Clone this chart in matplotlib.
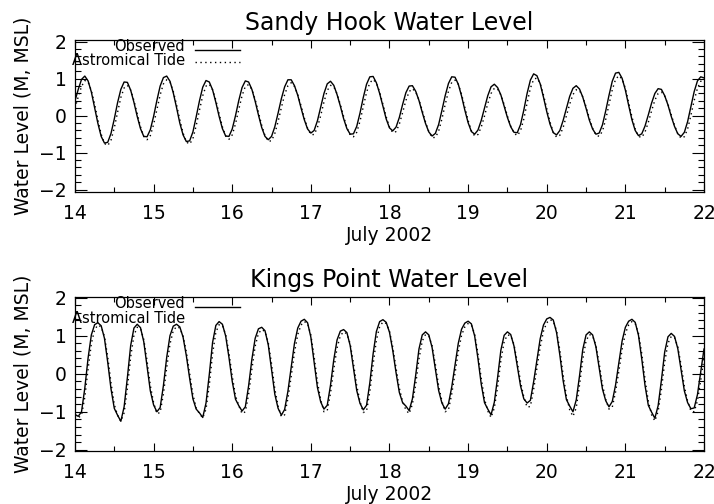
"""Sandy Hook and Kings Point water levels, observed vs. astronomical tide, July 2002."""

import matplotlib
matplotlib.use("Agg")
import matplotlib.pyplot as plt
import numpy as np
from matplotlib.ticker import MultipleLocator


# Hourly samples starting 14 July 2002 00:00 (values in metres, MSL)
START_DAY = 14.0

sandy_observed = [
    0.40, 0.71, 0.98, 1.07, 0.94, 0.64, 0.22, -0.21, -0.56, -0.74, -0.72, -0.48,
    -0.09, 0.35, 0.71, 0.91, 0.90, 0.69, 0.36, -0.02, -0.35, -0.56, -0.57, -0.38,
    -0.02, 0.41, 0.80, 1.03, 1.07, 0.93, 0.62, 0.22, -0.20, -0.52, -0.70, -0.68,
    -0.44, -0.03, 0.40, 0.77, 0.95, 0.91, 0.70, 0.36, -0.02, -0.35, -0.55, -0.56,
    -0.36, 0.00, 0.41, 0.76, 0.94, 0.91, 0.71, 0.39, 0.02, -0.32, -0.56, -0.65,
    -0.56, -0.30, 0.07, 0.46, 0.78, 0.97, 0.97, 0.81, 0.55, 0.21, -0.11, -0.36,
    -0.47, -0.40, -0.14, 0.23, 0.60, 0.86, 0.93, 0.82, 0.57, 0.26, -0.08, -0.35,
    -0.50, -0.49, -0.29, 0.07, 0.49, 0.85, 1.05, 1.06, 0.89, 0.60, 0.25, -0.09,
    -0.33, -0.41, -0.31, -0.05, 0.30, 0.62, 0.80, 0.81, 0.66, 0.41, 0.09, -0.21,
    -0.44, -0.55, -0.48, -0.24, 0.14, 0.54, 0.87, 1.05, 1.04, 0.85, 0.53, 0.15,
    -0.19, -0.43, -0.50, -0.39, -0.13, 0.21, 0.54, 0.78, 0.85, 0.76, 0.56, 0.26,
    -0.05, -0.30, -0.45, -0.46, -0.24, 0.15, 0.60, 0.96, 1.13, 1.08, 0.86, 0.50,
    0.11, -0.23, -0.46, -0.52, -0.40, -0.13, 0.20, 0.52, 0.74, 0.81, 0.72, 0.50,
    0.20, -0.12, -0.36, -0.50, -0.47, -0.25, 0.13, 0.55, 0.93, 1.15, 1.17, 1.01,
    0.69, 0.28, -0.11, -0.40, -0.54, -0.49, -0.28, 0.02, 0.34, 0.60, 0.73, 0.71,
    0.54, 0.29, -0.02, -0.29, -0.49, -0.56, -0.45, -0.16, 0.25, 0.65, 0.94, 1.05,
    1.02,
]

sandy_tide = [
    0.20, 0.51, 0.79, 0.95, 0.91, 0.68, 0.31, -0.12, -0.50, -0.75, -0.81, -0.66,
    -0.33, 0.09, 0.49, 0.75, 0.82, 0.69, 0.41, 0.05, -0.30, -0.56, -0.65, -0.54,
    -0.24, 0.16, 0.56, 0.86, 0.97, 0.91, 0.66, 0.30, -0.11, -0.47, -0.71, -0.77,
    -0.62, -0.27, 0.15, 0.54, 0.80, 0.85, 0.70, 0.42, 0.05, -0.30, -0.55, -0.64,
    -0.52, -0.22, 0.17, 0.54, 0.79, 0.84, 0.71, 0.44, 0.09, -0.26, -0.54, -0.69,
    -0.68, -0.48, -0.16, 0.22, 0.57, 0.81, 0.89, 0.79, 0.57, 0.27, -0.06, -0.34,
    -0.51, -0.51, -0.32, 0.00, 0.37, 0.68, 0.82, 0.78, 0.59, 0.30, -0.02, -0.32,
    -0.52, -0.57, -0.45, -0.15, 0.24, 0.63, 0.89, 0.98, 0.88, 0.64, 0.31, -0.03,
    -0.31, -0.46, -0.43, -0.23, 0.08, 0.41, 0.65, 0.73, 0.64, 0.43, 0.14, -0.17,
    -0.43, -0.59, -0.59, -0.42, -0.09, 0.30, 0.66, 0.90, 0.96, 0.85, 0.58, 0.22,
    -0.13, -0.41, -0.55, -0.51, -0.31, -0.01, 0.33, 0.60, 0.74, 0.72, 0.56, 0.30,
    -0.01, -0.28, -0.47, -0.54, -0.41, -0.09, 0.34, 0.74, 0.98, 1.02, 0.87, 0.56,
    0.19, -0.17, -0.45, -0.58, -0.53, -0.32, -0.01, 0.31, 0.57, 0.70, 0.68, 0.51,
    0.24, -0.07, -0.34, -0.52, -0.56, -0.42, -0.10, 0.30, 0.70, 0.98, 1.08, 0.99,
    0.74, 0.36, -0.03, -0.36, -0.56, -0.59, -0.44, -0.18, 0.13, 0.42, 0.60, 0.64,
    0.53, 0.31, 0.02, -0.26, -0.49, -0.61, -0.57, -0.36, 0.01, 0.41, 0.74, 0.93,
    0.95,
]

kings_observed = [
    -1.07, -1.12, -1.00, -0.38, 0.41, 1.02, 1.29, 1.34, 1.26, 0.93, 0.30, -0.40,
    -0.91, -1.09, -1.25, -0.87, -0.10, 0.74, 1.20, 1.30, 1.21, 0.84, 0.20, -0.45,
    -0.82, -1.00, -0.89, -0.31, 0.43, 1.00, 1.25, 1.30, 1.23, 0.96, 0.47, -0.12,
    -0.66, -0.93, -1.03, -1.15, -0.77, -0.02, 0.82, 1.27, 1.37, 1.30, 0.99, 0.43,
    -0.20, -0.67, -0.84, -0.98, -0.87, -0.32, 0.38, 0.93, 1.18, 1.22, 1.13, 0.76,
    0.11, -0.54, -0.91, -1.09, -0.94, -0.46, 0.17, 0.80, 1.20, 1.38, 1.43, 1.34,
    0.96, 0.30, -0.36, -0.74, -0.93, -0.83, -0.30, 0.37, 0.89, 1.12, 1.16, 1.08,
    0.74, 0.15, -0.44, -0.78, -0.95, -0.83, -0.24, 0.52, 1.11, 1.37, 1.42, 1.35,
    1.09, 0.61, 0.03, -0.49, -0.76, -0.85, -0.97, -0.66, -0.04, 0.65, 1.02, 1.10,
    1.02, 0.69, 0.13, -0.44, -0.77, -0.93, -0.79, -0.35, 0.23, 0.80, 1.17, 1.33,
    1.38, 1.31, 0.99, 0.40, -0.27, -0.76, -0.93, -1.08, -0.75, -0.10, 0.62, 1.01,
    1.10, 1.03, 0.73, 0.20, -0.32, -0.66, -0.77, -0.70, -0.21, 0.36, 0.92, 1.28,
    1.44, 1.48, 1.41, 1.08, 0.49, -0.18, -0.68, -0.85, -1.00, -0.69, -0.06, 0.64,
    1.02, 1.10, 1.02, 0.71, 0.15, -0.40, -0.71, -0.87, -0.73, -0.30, 0.28, 0.86,
    1.22, 1.38, 1.43, 1.35, 1.01, 0.39, -0.31, -0.83, -1.01, -1.17, -0.84, -0.17,
    0.57, 0.97, 1.06, 0.98, 0.66, 0.11, -0.45, -0.76, -0.92, -0.90, -0.55, 0.05,
    0.65,
]

kings_tide = [
    -1.10, -1.16, -1.09, -0.62, 0.12, 0.79, 1.16, 1.28, 1.23, 0.98, 0.44, -0.24,
    -0.81, -1.09, -1.25, -1.03, -0.38, 0.44, 1.01, 1.22, 1.19, 0.90, 0.34, -0.31,
    -0.76, -1.05, -1.02, -0.53, 0.16, 0.78, 1.13, 1.24, 1.20, 0.99, 0.57, 0.01,
    -0.55, -0.90, -1.05, -1.16, -0.93, -0.30, 0.52, 1.09, 1.29, 1.27, 1.03, 0.55,
    -0.06, -0.58, -0.84, -1.05, -1.00, -0.54, 0.12, 0.72, 1.06, 1.16, 1.11, 0.82,
    0.26, -0.40, -0.85, -1.13, -1.08, -0.65, -0.07, 0.56, 1.03, 1.28, 1.37, 1.32,
    1.02, 0.45, -0.21, -0.68, -1.00, -0.97, -0.51, 0.12, 0.68, 1.00, 1.10, 1.05,
    0.79, 0.28, -0.31, -0.73, -1.02, -0.98, -0.47, 0.24, 0.88, 1.24, 1.36, 1.32,
    1.12, 0.70, 0.15, -0.38, -0.73, -0.95, -1.05, -0.80, -0.28, 0.39, 0.86, 1.03,
    0.99, 0.74, 0.25, -0.32, -0.72, -1.00, -0.95, -0.53, 0.01, 0.58, 1.01, 1.23,
    1.32, 1.28, 1.04, 0.53, -0.12, -0.66, -0.98, -1.15, -0.90, -0.35, 0.35, 0.84,
    1.02, 1.00, 0.77, 0.31, -0.21, -0.61, -0.88, -0.86, -0.41, 0.14, 0.70, 1.12,
    1.34, 1.42, 1.38, 1.13, 0.62, -0.03, -0.58, -0.95, -1.12, -0.90, -0.30, 0.38,
    0.86, 1.03, 0.99, 0.75, 0.27, -0.29, -0.67, -0.93, -0.88, -0.48, 0.06, 0.64,
    1.06, 1.28, 1.37, 1.32, 1.06, 0.53, -0.15, -0.72, -1.08, -1.24, -0.99, -0.42,
    0.30, 0.80, 0.98, 0.95, 0.71, 0.23, -0.33, -0.72, -0.98, -1.00, -0.71, -0.18,
    0.42,
]

panels = [
    ("Sandy Hook Water Level", sandy_observed, sandy_tide, (-2.05, 2.05)),
    ("Kings Point Water Level", kings_observed, kings_tide, (-2.02, 2.02)),
]

# axes boxes in figure fractions: left, bottom, width, height
AXES_BOXES = [
    (0.105, 0.620, 0.881, 0.301),
    (0.105, 0.106, 0.881, 0.305),
]


def style_axes(ax, ylim):
    """IDL-like box: inward ticks on all four sides."""
    ax.set_xlim(14, 22)
    ax.set_ylim(*ylim)
    ax.xaxis.set_major_locator(MultipleLocator(1))
    ax.xaxis.set_minor_locator(MultipleLocator(0.5))
    ax.yaxis.set_major_locator(MultipleLocator(1))
    ax.yaxis.set_minor_locator(MultipleLocator(0.2))
    ax.tick_params(axis="both", which="both", direction="in",
                   top=True, right=True, width=0.8, labelsize=13.5)
    ax.tick_params(axis="x", which="major", length=6, pad=9)
    ax.tick_params(axis="x", which="minor", length=3.5)
    ax.tick_params(axis="y", which="major", length=8.5, pad=6)
    ax.tick_params(axis="y", which="minor", length=4.5)
    for spine in ax.spines.values():
        spine.set_linewidth(0.9)


def draw_legend(fig, ax, show_tide_line):
    """Hand-placed key in the top-left corner, overlapping the frame."""
    bbox = ax.get_position()
    x_text = bbox.x0 + 0.154
    x_line = [bbox.x0 + 0.168, bbox.x0 + 0.231]
    y_obs = bbox.y1 - 0.014
    y_tide = bbox.y1 - 0.042
    fig.text(x_text, y_obs, "Observed", ha="right", va="center", fontsize=10.5)
    fig.text(x_text, y_tide, "Astromical Tide", ha="right", va="center", fontsize=10.5)
    fig.add_artist(plt.Line2D(x_line, [y_obs - 0.006] * 2, color="black", lw=1.0,
                              transform=fig.transFigure))
    if show_tide_line:
        fig.add_artist(plt.Line2D(x_line, [y_tide - 0.002] * 2, color="black", lw=1.0,
                                  linestyle=(0, (1, 2.5)), transform=fig.transFigure))


def main():
    fig = plt.figure(figsize=(7.14, 5.04), dpi=100)

    for i, (title, observed, tide, ylim) in enumerate(panels):
        ax = fig.add_axes(AXES_BOXES[i])
        days = START_DAY + np.arange(len(observed)) / 24.0

        ax.plot(days, observed, color="black", lw=1.0)
        ax.plot(days, tide, color="black", lw=1.0, linestyle=(0, (1, 2.5)))

        style_axes(ax, ylim)
        ax.set_title(title, fontsize=17, pad=7)
        ax.set_xlabel("July 2002", fontsize=13.5, labelpad=2)
        ax.set_ylabel("Water Level (M, MSL)", fontsize=13.5, labelpad=5)

        draw_legend(fig, ax, show_tide_line=(i == 0))

    fig.savefig("out.png", dpi=100)
    plt.close(fig)


if __name__ == "__main__":
    main()
